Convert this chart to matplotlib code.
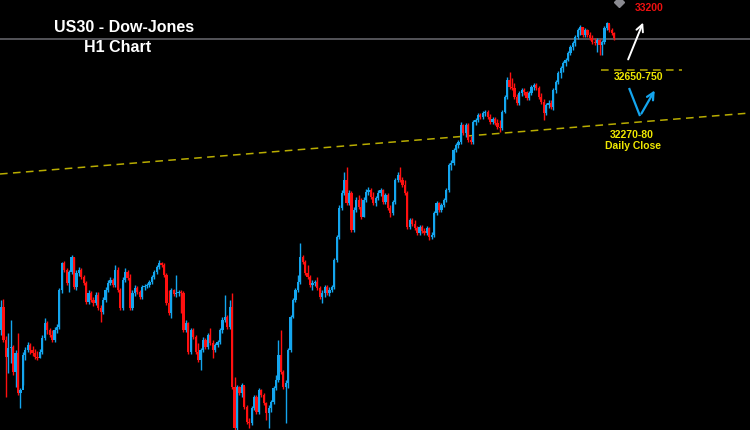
import matplotlib
matplotlib.use("Agg")
import matplotlib.pyplot as plt
import numpy as np

# ---------------- data (US30 H1 candles) ----------------
first_open = 30610
closes = [30794, 30530, 30394, 30466, 30474, 30274, 30426, 30106, 30130, 30410,
          30450, 30490, 30450, 30426, 30394, 30386, 30434, 30546, 30666, 30610,
          30570, 30530, 30610, 30634, 30930, 31146, 31090, 30986, 31074, 31194,
          30954, 31066, 31090, 31034, 30986, 30834, 30906, 30850, 30826, 30890,
          30786, 30754, 30850, 30930, 30986, 31010, 30970, 31090, 30930, 30786,
          31010, 31074, 31026, 30786, 30906, 30946, 30914, 30874, 30954, 30962,
          30970, 30994, 31034, 31074, 31114, 31146, 31130, 31050, 30826, 30746,
          30930, 30898, 30906, 30914, 30906, 30610, 30666, 30434, 30610, 30554,
          30434, 30370, 30450, 30530, 30474, 30570, 30506, 30450, 30490, 30514,
          30610, 30690, 30714, 30634, 30794, 30154, 29826, 30154, 30106, 30170,
          29994, 29874, 29866, 29986, 30074, 29954, 30130, 30090, 30026, 29946,
          29986, 30034, 30146, 30210, 30410, 30274, 30154, 30186, 30450, 30714,
          30850, 30930, 30994, 31194, 31154, 31066, 31034, 30970, 30986, 30994,
          30946, 30874, 30906, 30954, 30906, 30930, 30954, 31170, 31354, 31586,
          31706, 31810, 31626, 31706, 31410, 31570, 31650, 31594, 31514, 31650,
          31714, 31730, 31674, 31626, 31666, 31706, 31730, 31634, 31690, 31586,
          31546, 31634, 31810, 31850, 31810, 31770, 31706, 31434, 31490, 31458,
          31426, 31386, 31434, 31402, 31386, 31426, 31354, 31370, 31546, 31626,
          31570, 31610, 31650, 31730, 31930, 31946, 32050, 32090, 32114, 32250,
          32186, 32250, 32130, 32114, 32274, 32290, 32330, 32314, 32346, 32354,
          32314, 32274, 32298, 32266, 32234, 32226, 32354, 32474, 32610, 32554,
          32546, 32474, 32426, 32506, 32530, 32514, 32466, 32506, 32554, 32570,
          32546, 32474, 32434, 32346, 32410, 32426, 32394, 32530, 32594, 32666,
          32706, 32746, 32770, 32826, 32874, 32906, 32954, 33010, 33034, 32970,
          33010, 32970, 32946, 32914, 32906, 32930, 32890, 32914, 33026, 33066,
          33010, 32986, 32946]
highs = [30850, 30858, 30562, 30586, 30690, 30490, 30450, 30586, 30146, 30434,
         30474, 30514, 30506, 30482, 30458, 30442, 30458, 30570, 30706, 30682,
         30626, 30610, 30634, 30658, 30946, 31154, 31162, 31106, 31090, 31210,
         31194, 31090, 31114, 31106, 31050, 31002, 30930, 30922, 30874, 30914,
         30914, 30810, 30874, 30954, 31010, 31034, 31026, 31130, 31114, 30946,
         31034, 31106, 31090, 31058, 30930, 30970, 30962, 30930, 30970, 30978,
         30986, 31010, 31050, 31090, 31130, 31170, 31154, 31146, 31066, 30930,
         30946, 30938, 31050, 30930, 30930, 30922, 30690, 30674, 30626, 30626,
         30570, 30506, 30466, 30554, 30546, 30586, 30626, 30530, 30506, 30530,
         30626, 30714, 30890, 30730, 30850, 30906, 30234, 30170, 30162, 30186,
         30162, 30010, 29906, 30002, 30090, 30090, 30146, 30138, 30106, 30034,
         30010, 30050, 30162, 30250, 30530, 30610, 30290, 30210, 30466, 30730,
         30866, 30946, 31050, 31306, 31210, 31170, 31130, 31050, 31010, 31010,
         31034, 30962, 30930, 30970, 30970, 30954, 30970, 31186, 31370, 31610,
         31730, 31874, 31914, 31730, 31722, 31594, 31674, 31690, 31666, 31674,
         31738, 31754, 31746, 31714, 31682, 31730, 31746, 31738, 31706, 31706,
         31610, 31650, 31826, 31874, 31914, 31834, 31810, 31722, 31506, 31506,
         31490, 31442, 31450, 31450, 31426, 31442, 31434, 31394, 31562, 31642,
         31634, 31626, 31666, 31746, 31946, 31970, 32066, 32106, 32130, 32274,
         32258, 32266, 32266, 32162, 32290, 32306, 32346, 32346, 32362, 32370,
         32370, 32338, 32314, 32314, 32298, 32290, 32370, 32490, 32634, 32674,
         32626, 32586, 32498, 32522, 32546, 32546, 32522, 32522, 32570, 32586,
         32586, 32562, 32506, 32458, 32426, 32450, 32450, 32546, 32610, 32682,
         32722, 32762, 32786, 32842, 32890, 32922, 32970, 33026, 33050, 33034,
         33026, 33018, 32994, 32970, 32946, 32946, 32938, 32930, 33042, 33074,
         33058, 33026, 32994]
lows = [30570, 30514, 30074, 30266, 30346, 30250, 30154, 30090, 29986, 30170,
        30370, 30434, 30418, 30402, 30378, 30370, 30386, 30418, 30530, 30578,
        30554, 30514, 30514, 30586, 30618, 30906, 31074, 30970, 30914, 31058,
        30938, 30930, 31042, 31018, 30970, 30818, 30818, 30834, 30802, 30810,
        30770, 30674, 30738, 30834, 30914, 30970, 30954, 30954, 30914, 30770,
        30770, 30994, 31010, 30770, 30770, 30882, 30898, 30858, 30858, 30930,
        30946, 30954, 30978, 31018, 31058, 31098, 31114, 31034, 30810, 30730,
        30706, 30882, 30874, 30882, 30746, 30594, 30594, 30418, 30418, 30538,
        30418, 30354, 30290, 30434, 30458, 30458, 30490, 30386, 30434, 30474,
        30498, 30586, 30674, 30618, 30618, 30138, 29810, 29810, 30090, 30074,
        29978, 29858, 29826, 29850, 29970, 29938, 29938, 30074, 30010, 29890,
        29826, 29954, 30018, 30130, 30194, 30258, 30138, 29866, 30146, 30434,
        30706, 30834, 30914, 30978, 31138, 31050, 31018, 30954, 30930, 30962,
        30930, 30858, 30826, 30874, 30890, 30882, 30914, 30938, 31154, 31338,
        31570, 31690, 31610, 31610, 31394, 31394, 31554, 31578, 31498, 31514,
        31634, 31690, 31658, 31610, 31602, 31650, 31682, 31618, 31618, 31570,
        31514, 31530, 31618, 31794, 31794, 31754, 31690, 31418, 31418, 31442,
        31410, 31370, 31370, 31386, 31370, 31370, 31330, 31338, 31354, 31530,
        31554, 31554, 31594, 31634, 31714, 31890, 31930, 32034, 32066, 32098,
        32170, 32154, 32114, 32098, 32098, 32250, 32274, 32298, 32298, 32322,
        32298, 32258, 32258, 32250, 32218, 32194, 32210, 32346, 32458, 32538,
        32530, 32458, 32410, 32410, 32482, 32490, 32450, 32450, 32490, 32530,
        32530, 32458, 32418, 32290, 32330, 32386, 32378, 32370, 32506, 32578,
        32626, 32674, 32722, 32762, 32810, 32850, 32882, 32938, 32970, 32954,
        32954, 32954, 32930, 32898, 32890, 32834, 32810, 32810, 32898, 33010,
        32994, 32970, 32930]

last_price = 32940          # grey current-price line
trend_left = 31858          # daily-close trend line, left edge
trend_right = 32346         # daily-close trend line, right edge
zone_price = 32690          # 32650-750 zone

# ---------------- colours ----------------
BG = "black"
UP = "#14a5ee"
DOWN = "#ff1010"
YEL = "#b8ac00"
TXT_YEL = "#f0e800"

closes = np.array(closes)
highs = np.array(highs)
lows = np.array(lows)
opens = np.concatenate([[first_open], closes[:-1]])
x = np.arange(len(closes))
up = closes >= opens
cols = np.where(up, UP, DOWN)

fig = plt.figure(figsize=(7.5, 4.3), dpi=100, facecolor=BG)
ax = fig.add_axes([0, 0, 1, 1])
ax.set_facecolor(BG)
x_left, x_right = -0.4, 307.8
ax.set_xlim(x_left, x_right)
ax.set_ylim(29810, 33250)
ax.axis("off")

# price line
ax.axhline(last_price, color="#5a5a60", lw=1.3, zorder=1)

# trend line + zone
ax.plot([x_left, x_right], [trend_left, trend_right], color=YEL, lw=1.1,
        linestyle=(0, (5, 3.5)), zorder=2)
ax.plot([246.6, 279.9], [zone_price, zone_price], color=YEL, lw=1.1,
        linestyle=(0, (5, 3.5)), zorder=2)

# candles
ax.vlines(x, lows, highs, colors=cols, lw=1.0, zorder=3)
body = np.maximum(np.abs(closes - opens), 8)
ax.bar(x, body, bottom=np.minimum(opens, closes), width=0.92, color=cols,
       linewidth=0, zorder=4)

# small marker at top edge
ax.plot([254], [33235], marker="D", ms=5, color="#8a8a90", zorder=5, clip_on=True)

# arrows
ax.annotate("", xy=(264.3, 33090), xytext=(257.3, 32754),
            arrowprops=dict(arrowstyle="->,head_length=0.5,head_width=0.25",
                            color="white", lw=1.4))
ax.plot([258.1, 262.6], [32546, 32322], color=UP, lw=1.6, solid_capstyle="butt")
ax.annotate("", xy=(269.2, 32546), xytext=(262.6, 32322),
            arrowprops=dict(arrowstyle="->,head_length=0.5,head_width=0.25",
                            color=UP, lw=1.6))

# labels
font = "Liberation Sans"
ax.text(0.165, 0.937, "US30 - Dow-Jones", transform=ax.transAxes, ha="center",
        va="center", color="white", fontsize=11.5, fontweight="bold", family=font)
ax.text(0.157, 0.889, "H1 Chart", transform=ax.transAxes, ha="center",
        va="center", color="white", fontsize=11.5, fontweight="bold", family=font)
ax.text(649 / 750, 1 - 8 / 430, "33200", transform=ax.transAxes, ha="center",
        va="center", color="#ee1010", fontsize=7.5, fontweight="bold", family=font)
ax.text(639 / 750, 1 - 77 / 430, "32650-750", transform=ax.transAxes, ha="center",
        va="center", color=TXT_YEL, fontsize=7.5, fontweight="bold", family=font)
ax.text(632 / 750, 1 - 135 / 430, "32270-80", transform=ax.transAxes, ha="center",
        va="center", color=TXT_YEL, fontsize=7.5, fontweight="bold", family=font)
ax.text(633 / 750, 1 - 146 / 430, "Daily Close", transform=ax.transAxes, ha="center",
        va="center", color=TXT_YEL, fontsize=7.5, fontweight="bold", family=font)

fig.savefig("out.png", dpi=100, facecolor=BG)
